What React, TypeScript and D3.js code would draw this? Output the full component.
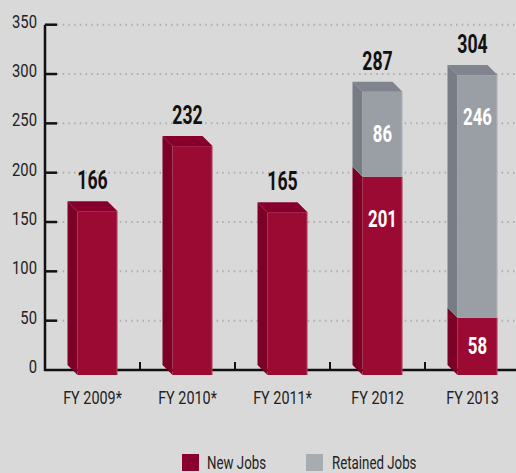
import React from "react";
import * as d3 from "d3";

const categories = ["FY 2009*", "FY 2010*", "FY 2011*", "FY 2012", "FY 2013"];
const newJobs = [166, 232, 165, 201, 58];
const retainedJobs = [0, 0, 0, 86, 246];
const totals = [166, 232, 165, 287, 304];
const yTicks = [0, 50, 100, 150, 200, 250, 300, 350];
const seriesNames = ["New Jobs", "Retained Jobs"];

const W = 516;
const H = 473;
const FONT = "Roboto, 'Liberation Sans', sans-serif";

const COLORS = {
  bg: "#d9d9d9",
  red: { front: "#9b0a33", side: "#7d0027", top: "#87002b" },
  grey: { front: "#9a9fa6", side: "#787d85", top: "#80858d" },
  legendRed: "#8a0030",
  legendGrey: "#a7acb3",
  grid: "#a9adb6",
};

function T(props: any) {
  const { x, y, sx = 0.78, children, ...rest } = props;
  return (
    <text transform={`translate(${x},${y}) scale(${sx},1)`} {...rest}>
      {children}
    </text>
  );
}

export default function App() {
  const x = d3.scaleBand<string>().domain(categories).range([45, 520]).padding(0);
  const y = d3.scaleLinear().domain([0, 350]).range([370, 24.7]);
  const barW = 40;
  const depth = 10;
  const half = depth / 2;

  const segments: any[] = [];
  categories.forEach((c, i) => {
    const cx = (x(c) as number) + x.bandwidth() / 2;
    const stack = [
      { v0: 0, v1: newJobs[i], col: COLORS.red, val: newJobs[i] },
      { v0: newJobs[i], v1: newJobs[i] + retainedJobs[i], col: COLORS.grey, val: retainedJobs[i] },
    ].filter((s) => s.v1 > s.v0);
    stack.forEach((s, k) => {
      segments.push({ ...s, cx, i, isTop: k === stack.length - 1, stacked: stack.length > 1 });
    });
  });

  const shape = (s: any) => {
    const fL = s.cx + half - barW / 2;
    const fR = fL + barW;
    const bL = fL - depth;
    const bR = fR - depth;
    const yt = y(s.v1);
    const yb = y(s.v0);
    const fT = yt + half, fB = yb + half, bT = yt - half, bB = yb - half;
    const side = `M${bL},${bT}L${fL},${fT}L${fL},${fB}L${bL},${bB}Z`;
    const top = `M${bL},${bT}L${bR},${bT}L${fR},${fT}L${fL},${fT}Z`;
    return { fL, fR, fT, fB, side, top };
  };

  return (
    <svg width={W} height={H} style={{ position: "absolute", left: 0, top: 0, fontFamily: FONT }}>
      <rect x={0} y={0} width={W} height={H} fill={COLORS.bg} />
      {/* grid */}
      {yTicks.filter((t) => t > 0).map((t) => (
        <line key={"g" + t} x1={57} x2={W} y1={y(t)} y2={y(t)} stroke={COLORS.grid} strokeWidth={2} strokeDasharray="1.5,4.2" />
      ))}
      {/* y axis */}
      <line x1={45} x2={45} y1={y(350)} y2={y(0) + 1} stroke="#111" strokeWidth={2.5} />
      {yTicks.filter((t) => t > 0).map((t) => (
        <line key={"t" + t} x1={45} x2={57} y1={y(t)} y2={y(t)} stroke="#111" strokeWidth={2.5} />
      ))}
      {yTicks.map((t) => (
        <T key={"l" + t} x={37} y={y(t) + 3} sx={0.8} textAnchor="end" fontSize={18.5} fill="#222">
          {t}
        </T>
      ))}
      {/* x axis */}
      <line x1={44} x2={W} y1={y(0)} y2={y(0)} stroke="#111" strokeWidth={2.5} />
      {categories.slice(1).map((c) => (
        <line key={"xt" + c} x1={x(c) as number} x2={x(c) as number} y1={y(0) - 8} y2={y(0)} stroke="#111" strokeWidth={2} />
      ))}
      {categories.map((c) => (
        <T key={"xl" + c} x={(x(c) as number) + x.bandwidth() / 2} y={404} sx={0.8} textAnchor="middle" fontSize={18} fill="#222">
          {c}
        </T>
      ))}
      {/* bars */}
      {segments.map((s, j) => {
        const g = shape(s);
        return (
          <g key={"b" + j}>
            <path d={g.side} fill={s.col.side} />
            <rect x={g.fL} y={g.fT} width={barW} height={g.fB - g.fT} fill={s.col.front} />
            <line x1={g.fR - 0.5} x2={g.fR - 0.5} y1={g.fT} y2={g.fB} stroke="#ffffff" strokeOpacity={0.25} />
            {s.isTop && <path d={g.top} fill={s.col.top} />}
          </g>
        );
      })}
      {/* inner labels */}
      {segments.filter((s) => s.stacked).map((s, j) => {
        const g = shape(s);
        const h = g.fB - g.fT;
        const cy = g.fT + Math.min(h / 2, 42);
        return (
          <T key={"il" + j} x={(g.fL + g.fR) / 2} y={cy + 8} sx={0.7} textAnchor="middle" fontSize={24} fontWeight="bold" fill="#fff">
            {s.val}
          </T>
        );
      })}
      {/* totals */}
      {categories.map((c, i) => (
        <T key={"tot" + c} x={(x(c) as number) + x.bandwidth() / 2} y={y(totals[i]) - 17} sx={0.68} textAnchor="middle" fontSize={26} fontWeight="bold" fill="#111">
          {totals[i]}
        </T>
      ))}
      {/* legend */}
      <rect x={182} y={454} width={17} height={17} fill={COLORS.legendRed} />
      <T x={207} y={468.5} sx={0.76} fontSize={17.5} fill="#222">{seriesNames[0]}</T>
      <rect x={306} y={454} width={17} height={17} fill={COLORS.legendGrey} />
      <T x={332} y={468.5} sx={0.76} fontSize={17.5} fill="#222">{seriesNames[1]}</T>
    </svg>
  );
}
